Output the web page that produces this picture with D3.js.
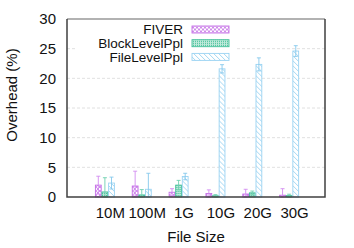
<!DOCTYPE html>
<html>
<head>
<meta charset="utf-8">
<script src="https://cdn.jsdelivr.net/npm/d3@7"></script>
<style>
  body { margin: 0; background: #fff; }
  text { font-family: "Liberation Sans", Arial, sans-serif; fill: #111; }
</style>
</head>
<body>
<div id="chart"></div>
<script>
// data
var sizes = ["10M", "100M", "1G", "10G", "20G", "30G"];
var series = ["FIVER", "BlockLevelPpl", "FileLevelPpl"];
var fiver     = [2.0, 1.85, 0.8, 0.6, 0.5, 0.3];
var fiverErr  = [1.5, 2.5, 0.6, 0.6, 0.8, 1.1];
var block     = [0.85, 0.35, 2.0, 0.2, 0.7, 0.22];
var blockErr  = [2.4, 0.9, 0.8, 0.2, 0.3, 0.25];
var file      = [2.35, 1.3, 3.45, 21.6, 22.35, 24.6];
var fileErr   = [1.0, 2.7, 0.55, 0.7, 1.1, 0.9];
var yTicks    = [0, 5, 10, 15, 20, 25, 30];

var colors = { "FIVER": "#c46ee6", "BlockLevelPpl": "#3fbf98", "FileLevelPpl": "#9ad3f2" };
var errColors = { "FIVER": "#d38cf0", "BlockLevelPpl": "#6fd0b0", "FileLevelPpl": "#86c8ec" };
var patIds = { "FIVER": "pFiver", "BlockLevelPpl": "pBlock", "FileLevelPpl": "pFile" };

var vals = { "FIVER": fiver, "BlockLevelPpl": block, "FileLevelPpl": file };
var errs = { "FIVER": fiverErr, "BlockLevelPpl": blockErr, "FileLevelPpl": fileErr };

var W = 354, H = 248;
var margin = { top: 19, right: 29, bottom: 51, left: 67 },
    width = W - margin.left - margin.right,
    height = H - margin.top - margin.bottom;

var svg = d3.select("#chart").append("svg")
    .attr("width", W)
    .attr("height", H);

// patterns
var defs = svg.append("defs");
var p1 = defs.append("pattern").attr("id", "pFiver").attr("patternUnits", "userSpaceOnUse")
    .attr("width", 4).attr("height", 4);
p1.append("rect").attr("width", 4).attr("height", 4).attr("fill", "#fff");
p1.append("path").attr("d", "M0,0L4,4M4,0L0,4").attr("stroke", colors["FIVER"]).attr("stroke-width", 0.8);

var p2 = defs.append("pattern").attr("id", "pBlock").attr("patternUnits", "userSpaceOnUse")
    .attr("width", 2).attr("height", 2);
p2.append("rect").attr("width", 2).attr("height", 2).attr("fill", "#bfe9da");
p2.append("rect").attr("width", 1).attr("height", 1).attr("fill", colors["BlockLevelPpl"]);

var p3 = defs.append("pattern").attr("id", "pFile").attr("patternUnits", "userSpaceOnUse")
    .attr("width", 5).attr("height", 5);
p3.append("rect").attr("width", 5).attr("height", 5).attr("fill", "#fff");
p3.append("path").attr("d", "M-1,-1L6,6M-1,4L1,6M4,-1L6,1").attr("stroke", colors["FileLevelPpl"]).attr("stroke-width", 0.9);

var g = svg.append("g")
    .attr("transform", "translate(" + margin.left + "," + margin.top + ")");

// scales
var y = d3.scaleLinear().domain([0, 30]).range([height, 0]);
var x = d3.scaleBand().domain(sizes).range([24.9, 246]).paddingInner(0);
var x1 = d3.scaleBand().domain(series).range([3.1, 22.9]);

// grid
g.selectAll(".grid").data(yTicks.slice(1, -1))
  .enter().append("line")
    .attr("class", "grid")
    .attr("x1", 0).attr("x2", width)
    .attr("y1", function(d) { return y(d); })
    .attr("y2", function(d) { return y(d); })
    .attr("stroke", "#d8d8d8")
    .attr("stroke-width", 0.8)
    .attr("stroke-dasharray", "3,2");

// legend background (covers grid)
g.append("rect")
    .attr("x", 10).attr("y", 3)
    .attr("width", 160).attr("height", 42)
    .attr("fill", "#fff");

// bars
var groups = g.selectAll(".grp").data(sizes)
  .enter().append("g")
    .attr("class", "grp")
    .attr("transform", function(d) { return "translate(" + x(d) + ",0)"; });

series.forEach(function(s) {
  groups.append("rect")
      .attr("x", x1(s) + 0.4)
      .attr("width", x1.bandwidth() - 0.8)
      .attr("y", function(d, i) { return y(vals[s][i]); })
      .attr("height", function(d, i) { return height - y(vals[s][i]); })
      .attr("fill", "url(#" + patIds[s] + ")")
      .attr("stroke", colors[s])
      .attr("stroke-width", 0.9);
});

// error bars
series.forEach(function(s) {
  var cx = x1(s) + x1.bandwidth() / 2;
  var eb = groups.append("g").attr("stroke", errColors[s]).attr("stroke-width", 0.9);
  eb.append("line")
      .attr("x1", cx).attr("x2", cx)
      .attr("y1", function(d, i) { return y(Math.max(0, vals[s][i] - errs[s][i])); })
      .attr("y2", function(d, i) { return y(vals[s][i] + errs[s][i]); });
  eb.append("line")
      .attr("x1", cx - 2).attr("x2", cx + 2)
      .attr("y1", function(d, i) { return y(vals[s][i] + errs[s][i]); })
      .attr("y2", function(d, i) { return y(vals[s][i] + errs[s][i]); });
  eb.append("line")
      .attr("x1", cx - 2).attr("x2", cx + 2)
      .attr("y1", function(d, i) { return y(Math.max(0, vals[s][i] - errs[s][i])); })
      .attr("y2", function(d, i) { return y(Math.max(0, vals[s][i] - errs[s][i])); });
});

// axes
var yAxis = d3.axisLeft(y).tickValues(yTicks).tickSize(0).tickPadding(11);
var gy = g.append("g").call(yAxis);
gy.select(".domain").remove();
gy.selectAll("text").style("font-size", "15px").attr("fill", "#111");

var xAxis = d3.axisBottom(x).tickSize(0).tickPadding(10);
var gx = g.append("g").attr("transform", "translate(0," + height + ")").call(xAxis);
gx.select(".domain").remove();
gx.selectAll("text").style("font-size", "15px").attr("fill", "#111");

// frame
g.append("line").attr("x1", 0).attr("x2", width).attr("y1", 0).attr("y2", 0)
    .attr("stroke", "#999").attr("stroke-width", 1.5);
g.append("path")
    .attr("d", "M0,0V" + height + "H" + width + "V0")
    .attr("fill", "none").attr("stroke", "#404040").attr("stroke-width", 1.5);

// legend
var leg = g.selectAll(".leg").data(series)
  .enter().append("g")
    .attr("class", "leg")
    .attr("transform", function(d, i) { return "translate(0," + (10.5 + i * 13.7) + ")"; });
leg.append("text")
    .attr("x", 116).attr("dy", "0.35em")
    .attr("text-anchor", "end")
    .style("font-size", "13.5px")
    .text(function(d) { return d; });
leg.append("rect")
    .attr("x", 125).attr("y", -3.5)
    .attr("width", 37).attr("height", 7)
    .attr("fill", function(d) { return "url(#" + patIds[d] + ")"; })
    .attr("stroke", function(d) { return colors[d]; })
    .attr("stroke-width", 0.9);

// axis titles
svg.append("text")
    .attr("transform", "rotate(-90)")
    .attr("x", -95).attr("y", 17)
    .attr("text-anchor", "middle")
    .style("font-size", "15px")
    .text("Overhead (%)");

svg.append("text")
    .attr("x", 196).attr("y", 242)
    .attr("text-anchor", "middle")
    .style("font-size", "15px")
    .text("File Size");
</script>
</body>
</html>
